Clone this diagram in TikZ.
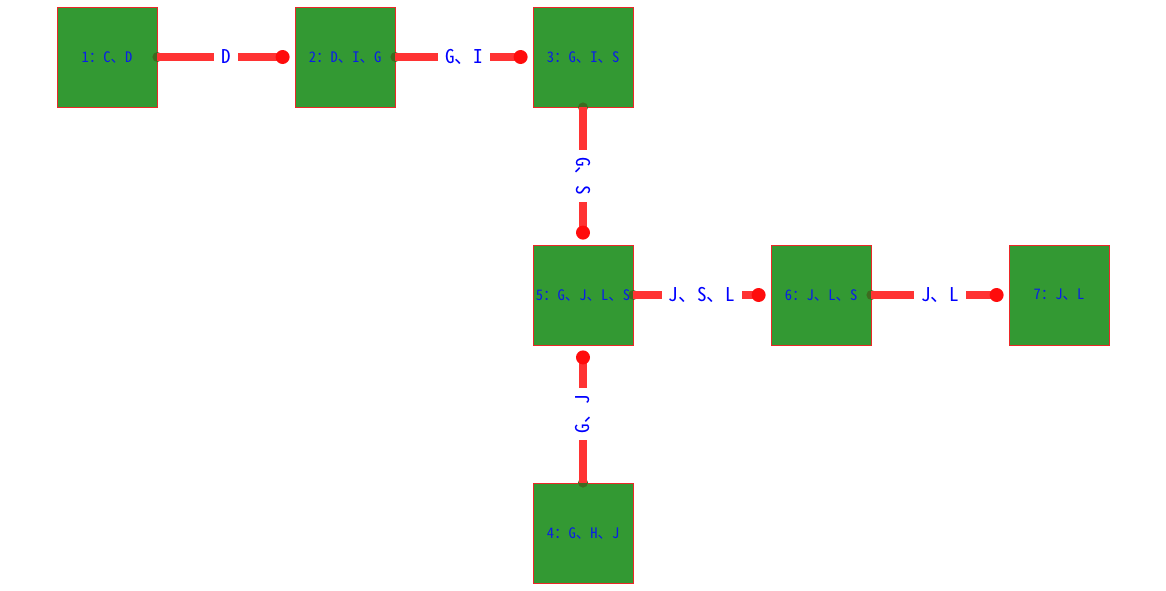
\documentclass[tikz,border=0pt]{standalone}
\usepackage{fontspec}
\newfontfamily\cjk[RawFeature=+hwid]{Noto Sans CJK SC}
\usetikzlibrary{calc}
\definecolor{boxgreen}{RGB}{51,153,51}
\definecolor{boxborder}{RGB}{235,40,40}
\definecolor{edgered}{RGB}{255,51,51}
\definecolor{dotred}{RGB}{255,12,12}
\definecolor{darkdot}{RGB}{62,106,32}
\definecolor{txtblue}{RGB}{10,30,230}
\definecolor{lblblue}{RGB}{0,0,255}
\tikzset{
  box/.style={rectangle, draw=boxborder, line width=0.8pt, fill=boxgreen, minimum width=100pt, minimum height=100pt, inner sep=0pt, text=txtblue, font=\cjk\fontsize{14.5}{15}\selectfont},
  edgeline/.style={draw=edgered, line width=8.5pt},
  startdot/.style={fill=darkdot},
  enddot/.style={fill=dotred},
  elabel/.style={fill=white, text=lblblue, inner xsep=7pt, inner ysep=3pt, font=\cjk\fontsize{19}{20}\selectfont}
}
\begin{document}
\begin{tikzpicture}[x=1pt,y=-1pt]
\useasboundingbox (0,0) rectangle (1166,590);
% nodes
\node[box] (n1) at (107,57) {1：C、D};
\node[box] (n2) at (345,57) {2：D、I、G};
\node[box] (n3) at (583,57) {3：G、I、S};
\node[box] (n5) at (583,295) {5：G、J、L、S};
\node[box] (n6) at (821,295) {6：J、L、S};
\node[box] (n7) at (1059,295) {7：J、L};
\node[box] (n4) at (583,533) {4：G、H、J};
% helper coordinates for edge ends
\coordinate (e12) at ($(n2.west)+(-12,0)$);
\coordinate (e23) at ($(n3.west)+(-12,0)$);
\coordinate (e35) at ($(n5.north)+(0,-12)$);
\coordinate (e56) at ($(n6.west)+(-12,0)$);
\coordinate (e67) at ($(n7.west)+(-12,0)$);
\coordinate (e45) at ($(n5.south)+(0,12)$);
% edge 1 -> 2
\fill[startdot] (n1.east) circle (5pt);
\draw[edgeline] (n1.east) -- (e12);
\fill[enddot] (e12) circle (7pt);
\node[elabel] (l12) at ($(n1.east)!0.5!(n2.west)$) {D};
% edge 2 -> 3
\fill[startdot] (n2.east) circle (5pt);
\draw[edgeline] (n2.east) -- (e23);
\fill[enddot] (e23) circle (7pt);
\node[elabel] (l23) at ($(n2.east)!0.5!(n3.west)$) {G、I};
% edge 3 -> 5
\fill[startdot] (n3.south) circle (5pt);
\draw[edgeline] (n3.south) -- (e35);
\fill[enddot] (e35) circle (7pt);
\node[elabel, rotate=-90] (l35) at ($(n3.south)!0.5!(n5.north)$) {G、S};
% edge 5 -> 6
\fill[startdot] (n5.east) circle (5pt);
\draw[edgeline] (n5.east) -- (e56);
\fill[enddot] (e56) circle (7pt);
\node[elabel] (l56) at ($(n5.east)!0.5!(n6.west)$) {J、S、L};
% edge 6 -> 7
\fill[startdot] (n6.east) circle (5pt);
\draw[edgeline] (n6.east) -- (e67);
\fill[enddot] (e67) circle (7pt);
\node[elabel] (l67) at ($(n6.east)!0.5!(n7.west)$) {J、L};
% edge 4 -> 5
\fill[startdot] (n4.north) circle (5pt);
\draw[edgeline] (n4.north) -- (e45);
\fill[enddot] (e45) circle (7pt);
\node[elabel, rotate=90] (l45) at ($(n4.north)!0.5!(n5.south)$) {G、J};
\end{tikzpicture}
\end{document}
